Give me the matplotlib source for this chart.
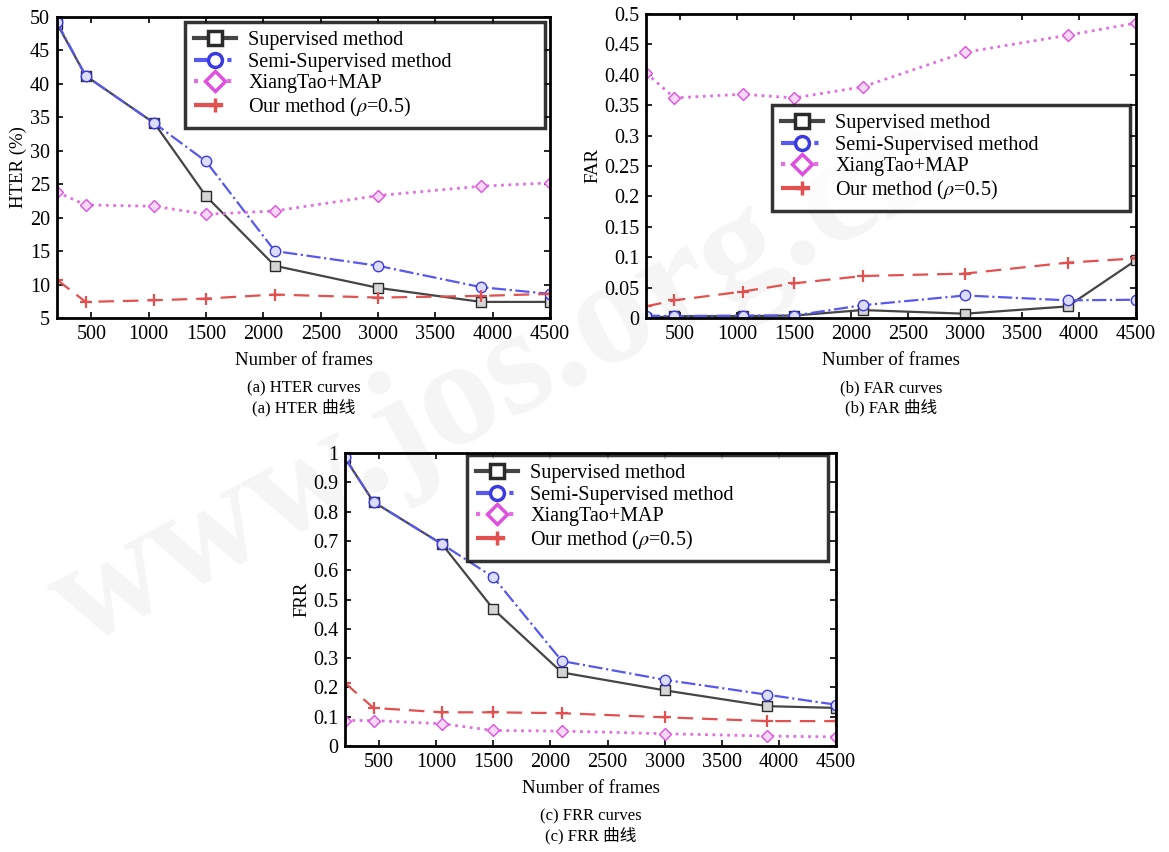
# HTER / FAR / FRR curves vs number of frames
import matplotlib
matplotlib.use('Agg')
import matplotlib.pyplot as plt

plt.rcParams['font.family'] = ['Liberation Serif', 'Noto Sans CJK SC']
plt.rcParams['mathtext.fontset'] = 'stix'

frames = [200, 450, 1050, 1500, 2100, 3000, 3900, 4500]
labels = ['Supervised method', 'Semi-Supervised method', 'XiangTao+MAP',
          r'Our method ($\rho$=0.5)']

# (a) HTER (%)
hter_sup = [49.0, 41.2, 34.1, 23.2, 12.8, 9.5, 7.4, 7.4]
hter_semi = [49.2, 41.2, 34.1, 28.4, 15.0, 12.8, 9.6, 8.6]
hter_xt = [23.8, 21.9, 21.7, 20.5, 21.0, 23.3, 24.7, 25.2]
hter_our = [10.7, 7.4, 7.65, 7.9, 8.5, 8.05, 8.3, 8.6]

# (b) FAR
far_sup = [0.0, 0.003, 0.003, 0.004, 0.013, 0.007, 0.019, 0.095]
far_semi = [0.004, 0.003, 0.004, 0.004, 0.021, 0.037, 0.029, 0.030]
far_xt = [0.403, 0.362, 0.368, 0.362, 0.380, 0.437, 0.465, 0.485]
far_our = [0.019, 0.029, 0.0435, 0.057, 0.069, 0.073, 0.091, 0.098]

# (c) FRR
frr_sup = [0.983, 0.833, 0.689, 0.467, 0.251, 0.19, 0.136, 0.13]
frr_semi = [0.985, 0.833, 0.689, 0.576, 0.290, 0.226, 0.175, 0.141]
frr_xt = [0.087, 0.087, 0.076, 0.053, 0.051, 0.042, 0.034, 0.031]
frr_our = [0.215, 0.13, 0.115, 0.115, 0.112, 0.098, 0.085, 0.085]

xticks = [500, 1000, 1500, 2000, 2500, 3000, 3500, 4000, 4500]
hter_ticks = [5, 10, 15, 20, 25, 30, 35, 40, 45, 50]
far_ticks = [0, 0.05, 0.1, 0.15, 0.2, 0.25, 0.3, 0.35, 0.40, 0.45, 0.5]
far_ticklabels = ['0', '0.05', '0.1', '0.15', '0.2', '0.25', '0.3', '0.35', '0.40', '0.45', '0.5']
frr_ticks = [0, 0.1, 0.2, 0.3, 0.4, 0.5, 0.6, 0.7, 0.8, 0.9, 1]
frr_ticklabels = ['0', '0.1', '0.2', '0.3', '0.4', '0.5', '0.6', '0.7', '0.8', '0.9', '1']

styles = [
    dict(color='#454545', ls='-', marker='s', ms=7.5, mfc='#d5d5d5', mec='#2a2a2a', lw=1.6),
    dict(color='#5858ee', ls='-.', marker='o', ms=7.5, mfc='#dcdcff', mec='#3a3ae0', lw=1.6),
    dict(color='#e070e0', ls=':', marker='D', ms=6.5, mfc='#f8d8f8', mec='#e050e0', lw=2.0),
    dict(color='#e25050', ls=(0, (7, 4)), marker='+', ms=9, mew=1.6, lw=1.6),
]

fig = plt.figure(figsize=(11.69, 8.52), dpi=100)

# faint watermark
fig.text(0.43, 0.55, 'www.jos.org.cn', fontsize=110, color='#f5f5f5',
         rotation=28, ha='center', va='center', zorder=-5, fontweight='bold')


def panel(rect, series, ylim, yticks, yticklabels, ylabel, legbox,
          cap_en, cap_zh):
    ax = fig.add_axes(rect)
    ax.set_facecolor('none')
    for ys, st, lab in zip(series, styles, labels):
        ax.plot(frames, ys, label=lab, **st)
    ax.set_xlim(200, 4500)
    ax.set_ylim(*ylim)
    ax.set_xticks(xticks)
    ax.set_yticks(yticks)
    ax.set_yticklabels(yticklabels)
    ax.tick_params(direction='in', top=True, right=True, length=4, width=1.2,
                   labelsize=14.5, pad=5)
    for s in ax.spines.values():
        s.set_linewidth(2)
    ax.set_ylabel(ylabel, fontsize=13.5, labelpad=2)
    ax.set_xlabel('Number of frames', fontsize=13.5, labelpad=6)
    leg = fig.legend(*ax.get_legend_handles_labels(), loc='upper left',
                     bbox_to_anchor=legbox, mode='expand', fontsize=14.5,
                     frameon=True, fancybox=False, borderaxespad=0,
                     handlelength=2.1, handletextpad=0.6, labelspacing=0.12,
                     borderpad=0.45)
    leg.get_frame().set_edgecolor('black')
    leg.get_frame().set_linewidth(2.5)
    for hd in leg.legend_handles:
        hd.set_linewidth(3)
        hd.set_markersize(10)
        hd.set_markeredgewidth(2.5)
        if hd.get_marker() != '+':
            hd.set_markerfacecolor('white')
    l, b, w, h = rect
    cx = l + w / 2
    fig.text(cx, b - 70 / 852, cap_en, ha='center', va='center', fontsize=12)
    fig.text(cx, b - 90 / 852, cap_zh, ha='center', va='center', fontsize=12)
    return ax


panel([0.0488, 0.6268, 0.4217, 0.3533],
      [hter_sup, hter_semi, hter_xt, hter_our], (5, 50), hter_ticks,
      [str(t) for t in hter_ticks], 'HTER (%)', (0.1583, 0.8498, 0.308, 0.1244),
      '(a) HTER curves', '(a) HTER 曲线')

panel([0.5526, 0.6268, 0.4192, 0.3568],
      [far_sup, far_semi, far_xt, far_our], (0, 0.5), far_ticks,
      far_ticklabels, 'FAR', (0.6604, 0.7536, 0.3063, 0.1232),
      '(b) FAR curves', '(b) FAR 曲线')

panel([0.2951, 0.1244, 0.4200, 0.3439],
      [frr_sup, frr_semi, frr_xt, frr_our], (0, 1), frr_ticks,
      frr_ticklabels, 'FRR', (0.3995, 0.3404, 0.3088, 0.1256),
      '(c) FRR curves', '(c) FRR 曲线')

fig.savefig('out.png', dpi=100)
